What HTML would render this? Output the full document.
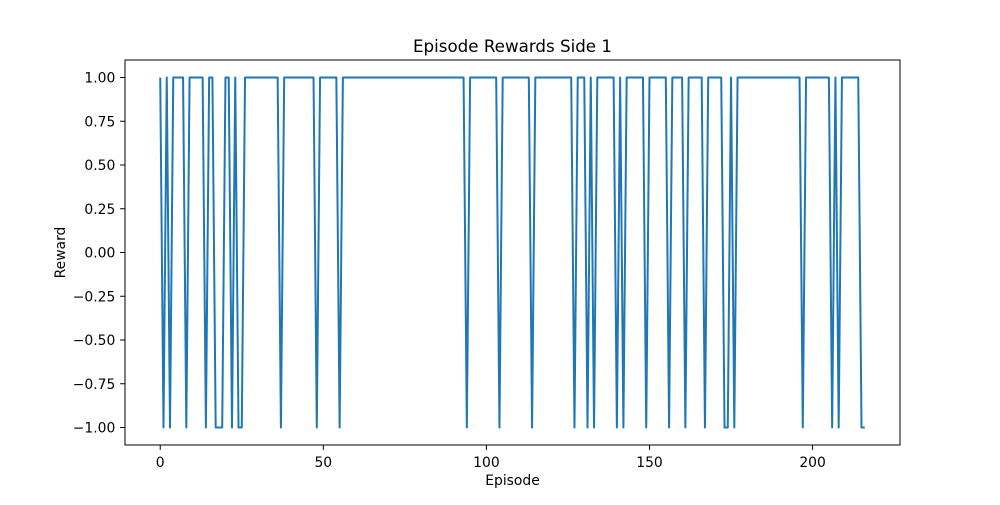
<!DOCTYPE html>
<html><head><meta charset="utf-8"><style>
body{margin:0;background:#fff}
svg text{font-family:"DejaVu Sans","Liberation Sans",sans-serif;fill:#000}
</style></head><body>
<svg id="chart" width="1000" height="500" xmlns="http://www.w3.org/2000/svg">
<rect width="1000" height="500" fill="#fff"/>
<text x="512.5" y="52" font-size="16.7" text-anchor="middle">Episode Rewards Side 1</text>
<text x="512.5" y="485" font-size="13.9" text-anchor="middle">Episode</text>
<text x="65" y="252.5" font-size="13.9" text-anchor="middle" transform="rotate(-90 65 252.5)">Reward</text>
<g id="ticks"></g>
<path id="line" fill="none" stroke="#1f77b4" stroke-width="2" stroke-linejoin="round"/>
<rect x="125" y="60" width="775" height="385" fill="none" stroke="#000" stroke-width="1"/>
</svg>
<script>
const episodeCount = 217;
const lossEpisodes = [1,3,8,14,17,18,19,22,24,25,37,48,55,94,104,114,127,131,133,140,142,149,156,161,167,173,174,176,197,206,208,215,216];
const xTicks = [0,50,100,150,200];
const yTicks = [-1,-0.75,-0.5,-0.25,0,0.25,0.5,0.75,1];
const yTickLabels = ["−1.00","−0.75","−0.50","−0.25","0.00","0.25","0.50","0.75","1.00"];

const L=125,R=900,T=60,B=445;
const xMin=-(episodeCount-1)*0.05, xMax=(episodeCount-1)*1.05;
const x=v=>L+(v-xMin)/(xMax-xMin)*(R-L);
const y=v=>B-(v+1.1)/2.2*(B-T);
const NS="http://www.w3.org/2000/svg";
const rewards=[];
for(let i=0;i<episodeCount;i++) rewards.push(lossEpisodes.includes(i)?-1:1);
let d="";
rewards.forEach((r,i)=>{d+=(i?"L":"M")+x(i).toFixed(2)+" "+y(r).toFixed(2);});
document.getElementById("line").setAttribute("d",d);
const g=document.getElementById("ticks");
xTicks.forEach(t=>{
  const l=document.createElementNS(NS,"line");
  l.setAttribute("x1",x(t));l.setAttribute("x2",x(t));l.setAttribute("y1",B);l.setAttribute("y2",B+4.9);
  l.setAttribute("stroke","#000");l.setAttribute("stroke-width","1");
  
  
  g.appendChild(l);
  const tx=document.createElementNS(NS,"text");
  tx.setAttribute("x",x(t));tx.setAttribute("y",B+22);tx.setAttribute("font-size","13.9");tx.setAttribute("text-anchor","middle");
  tx.textContent=t;
  
  
  g.appendChild(tx);
});
yTicks.forEach((t,i)=>{
  const l=document.createElementNS(NS,"line");
  l.setAttribute("x1",L-4.9);l.setAttribute("x2",L);l.setAttribute("y1",y(t));l.setAttribute("y2",y(t));
  l.setAttribute("stroke","#000");l.setAttribute("stroke-width","1");
  
  
  g.appendChild(l);
  const tx=document.createElementNS(NS,"text");
  tx.setAttribute("x",L-9.7);tx.setAttribute("y",y(t)+5);tx.setAttribute("font-size","13.9");tx.setAttribute("text-anchor","end");
  tx.textContent=yTickLabels[i];
  
  
  g.appendChild(tx);
});
</script>
</body></html>
